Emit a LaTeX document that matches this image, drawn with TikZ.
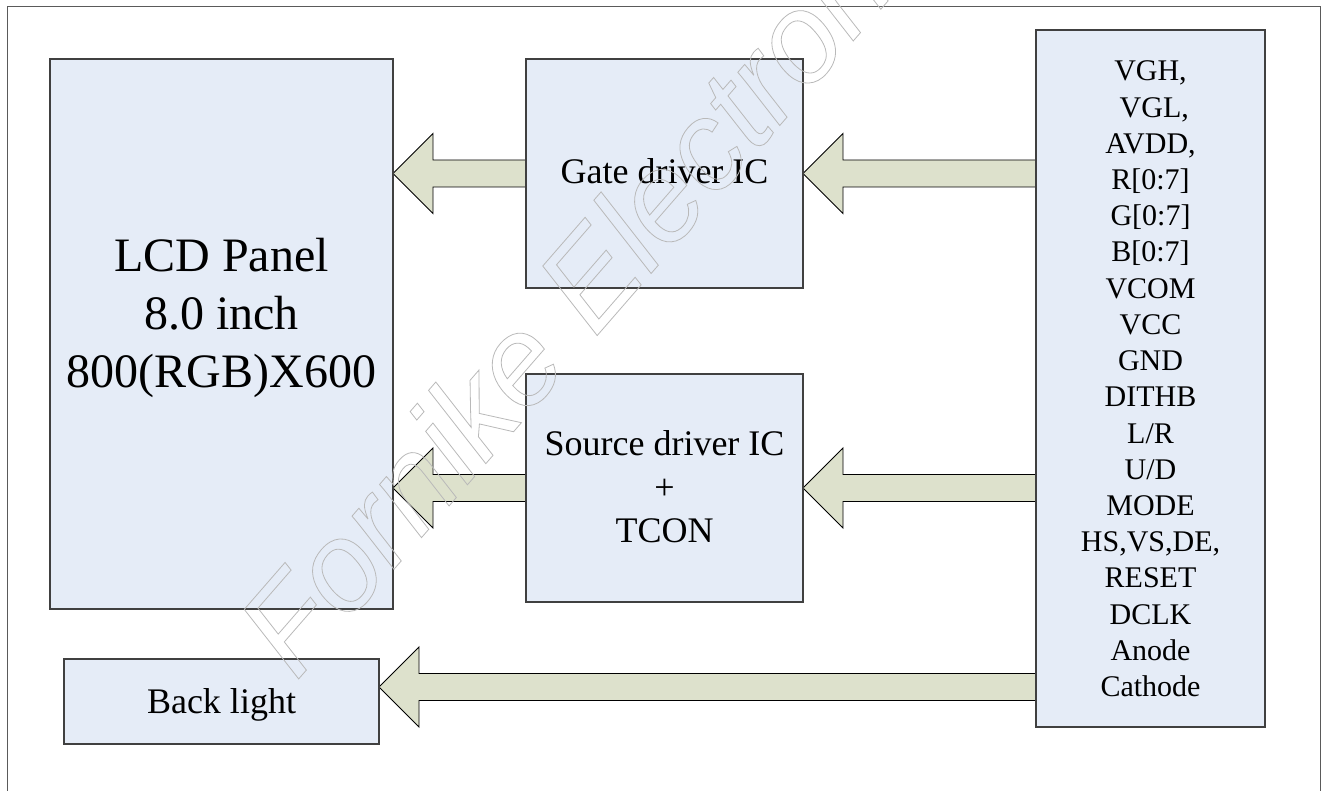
\documentclass[tikz,border=0pt]{standalone}
\usepackage{fontspec}
\setmainfont{Liberation Serif}
\newfontfamily\wmfont{Liberation Sans}
\usetikzlibrary{calc,backgrounds}
\definecolor{boxfill}{RGB}{229,236,247}
\definecolor{arrowfill}{RGB}{221,225,204}
\definecolor{boxline}{RGB}{64,64,64}
\definecolor{wmgray}{RGB}{185,185,185}
\definecolor{framecol}{RGB}{90,90,90}
\newcommand\blockarrow[2]{%
  \draw[barrow] let \p1=#1, \p2=#2 in
    (\x1,\y2+13.5pt) -- (\x2+40pt,\y2+13.5pt) -- (\x2+40pt,\y2+40pt) -- (\x2,\y2)
    -- (\x2+40pt,\y2-40pt) -- (\x2+40pt,\y2-13.5pt) -- (\x1,\y2-13.5pt) -- cycle;}
\begin{document}
\begin{tikzpicture}[x=1pt,y=-1pt,
  box/.style={draw=boxline, line width=1.2pt, fill=boxfill, inner sep=0pt, outer sep=0pt},
  barrow/.style={draw=black, line width=0.9pt, fill=arrowfill, line join=miter},
  lbl/.style={anchor=base, inner sep=0pt, font=\fontsize{36}{43.5}\selectfont},
  biglbl/.style={anchor=base, inner sep=0pt, font=\fontsize{48}{58}\selectfont},
  sig/.style={anchor=base, inner sep=0pt, font=\fontsize{30}{36}\selectfont},
  framestyle/.style={draw=framecol, line width=1pt}]
\useasboundingbox (0,0) rectangle (1325,791);
% outer frame
\draw[framestyle] (7,800) -- (7,7) -- (1320,7) -- (1320,800);
% boxes
\node[box, minimum width=343pt, minimum height=550pt] (lcd) at (221.5,334) {};
\node[box, minimum width=277pt, minimum height=229pt] (gate) at (664.5,173.5) {};
\node[box, minimum width=277pt, minimum height=228pt] (src) at (664.5,488) {};
\node[box, minimum width=229pt, minimum height=697pt] (right) at (1150.5,378.5) {};
\node[box, minimum width=315pt, minimum height=85pt] (bl) at (221.5,701.5) {};
\coordinate (bltip) at ([yshift=14.5pt]bl.east);
% arrows
\begin{pgfonlayer}{background}
\blockarrow{(gate.west)}{(lcd.east |- gate.west)}
\blockarrow{(right.west |- gate.west)}{(gate.east)}
\blockarrow{(src.west)}{(lcd.east |- src.west)}
\blockarrow{(right.west |- src.west)}{(src.east)}
\blockarrow{(right.west |- bltip)}{(bltip)}
\end{pgfonlayer}
% labels
\node[biglbl] (l1) at (221.5,272) {LCD Panel};
\node[biglbl] (l2) at (221.5,330) {8.0 inch};
\node[biglbl] (l3) at (221.5,388) {800(RGB)X600};
\node[lbl] (g1) at (664.5,184) {Gate driver IC};
\node[lbl] (s1) at (664.5,455) {Source driver IC};
\node[lbl, anchor=center] (s2) at (664.5,489) {+};
\node[lbl] (s3) at (664.5,542) {TCON};
\node[lbl] (b1) at (221.5,713) {Back light};
\foreach [count=\i] \t in {{VGH,},{~VGL,},{AVDD,},{R[0:7]},{G[0:7]},{B[0:7]},VCOM,VCC,GND,DITHB,L/R,U/D,MODE,{HS,VS,DE,},RESET,DCLK,Anode,Cathode}
  \node[sig] (sig\i) at (1150.5,{81+(\i-1)*36.2}) {\t};
% watermark
\node[rotate=49, anchor=base west, inner sep=0pt, text=wmgray,
      font=\wmfont\itshape\fontsize{126}{126}\selectfont] (wm) at (296,682)
  {\special{pdf:literal direct 1 Tr 0.8 w}Fornike Electronic\special{pdf:literal direct 0 Tr}};
\end{tikzpicture}
\end{document}
